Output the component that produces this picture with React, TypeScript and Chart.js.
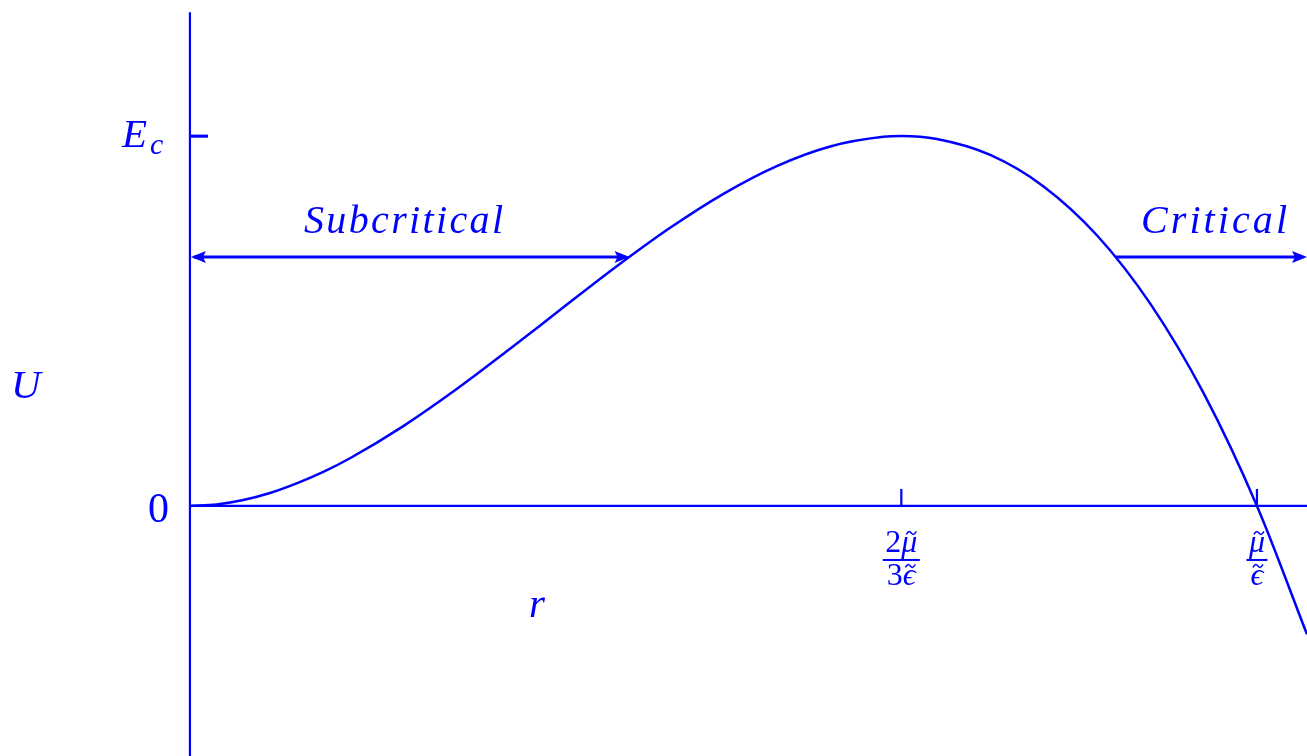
import React, { useEffect, useRef } from "react";
import { Chart, registerables } from "chart.js";

Chart.register(...registerables);

// Potential U(r) sampled along r (r in units of mu/eps, U in units of E_c)
const R_VALUES = [
  0, 0.025, 0.05, 0.075, 0.1, 0.125, 0.15, 0.2, 0.25, 0.3, 0.35, 0.4, 0.45,
  0.5, 0.55, 0.6, 0.65, 0.6667, 0.7, 0.75, 0.8, 0.85, 0.9, 0.95, 1.0, 1.0469,
];
const U_VALUES = [
  0, 0.004, 0.016, 0.035, 0.061, 0.092, 0.129, 0.216, 0.316, 0.425, 0.537,
  0.648, 0.752, 0.844, 0.919, 0.972, 0.998, 1.0, 0.992, 0.949, 0.864, 0.732,
  0.547, 0.305, 0, -0.347,
];

// Axis extents
const X_MIN = -0.178;
const X_MAX = 1.0469;
const Y_MIN = -0.676;
const Y_MAX = 1.368;
const AXIS_TOP = 1.335;

// Marked values
const E_C = 1;
const R_PEAK = 0.6667;
const R_ZERO = 1;

// Energy level of the two regime arrows and where they meet the curve
const ARROW_LEVEL = 0.673;
const SUB_END = 0.412;
const CRIT_START = 0.8675;

const REGIME_LABELS = ["Subcritical", "Critical"];
const AXIS_LABELS = ["U", "r"];

const BLUE = "#0000ff";
const SERIF = '"Liberation Serif", "DejaVu Serif", serif';

function spacedText(
  ctx: CanvasRenderingContext2D,
  text: string,
  left: number,
  right: number,
  baseline: number
) {
  const chars = Array.from(text);
  const widths = chars.map((c) => ctx.measureText(c).width);
  const total = widths.reduce((a, b) => a + b, 0);
  const gap = chars.length > 1 ? (right - left - total) / (chars.length - 1) : 0;
  let x = left;
  ctx.textAlign = "left";
  chars.forEach((c, i) => {
    ctx.fillText(c, x, baseline);
    x += widths[i] + gap;
  });
}

function tilde(ctx: CanvasRenderingContext2D, cx: number, cy: number, w: number) {
  ctx.save();
  ctx.lineWidth = 1.5;
  ctx.beginPath();
  ctx.moveTo(cx - w / 2, cy + 1.5);
  ctx.bezierCurveTo(cx - w / 4, cy - 3, cx - w / 8, cy - 1.5, cx, cy);
  ctx.bezierCurveTo(cx + w / 8, cy + 1.5, cx + w / 4, cy + 3, cx + w / 2, cy - 1.5);
  ctx.stroke();
  ctx.restore();
}

// Fraction like 2mu~/3eps~ centred at cx
function fraction(
  ctx: CanvasRenderingContext2D,
  cx: number,
  numPre: string,
  numSym: string,
  denPre: string,
  denSym: string,
  barY: number,
  barW: number
) {
  const upright = `32px ${SERIF}`;
  const italic = `italic 32px ${SERIF}`;
  const drawPart = (
    pre: string,
    sym: string,
    baseline: number,
    tildeY: number,
    tildeDx: number
  ) => {
    ctx.font = upright;
    const wp = ctx.measureText(pre).width;
    ctx.font = italic;
    const ws = ctx.measureText(sym).width;
    const left = cx - (wp + ws) / 2;
    ctx.font = upright;
    ctx.textAlign = "left";
    ctx.fillText(pre, left, baseline);
    ctx.font = italic;
    ctx.fillText(sym, left + wp, baseline);
    tilde(ctx, left + wp + ws / 2 + tildeDx, tildeY, 10);
  };
  drawPart(numPre, numSym, barY - 8, barY - 27, 2);
  ctx.fillRect(cx - barW / 2, barY - 1, barW, 2);
  drawPart(denPre, denSym, barY + 25, barY + 6, 1);
}

const decorations = {
  id: "decorations",
  afterDatasetsDraw(chart: Chart) {
    const ctx = chart.ctx;
    const xs = chart.scales.x;
    const ys = chart.scales.y;
    const area = chart.chartArea;
    const x0 = xs.getPixelForValue(0);
    const y0 = ys.getPixelForValue(0);
    const yEc = ys.getPixelForValue(E_C);
    const yArrow = ys.getPixelForValue(ARROW_LEVEL);

    ctx.save();
    ctx.strokeStyle = BLUE;
    ctx.fillStyle = BLUE;
    ctx.lineCap = "butt";

    // axes
    ctx.lineWidth = 2.2;
    ctx.beginPath();
    ctx.moveTo(x0, ys.getPixelForValue(AXIS_TOP));
    ctx.lineTo(x0, area.bottom);
    ctx.moveTo(x0, y0);
    ctx.lineTo(area.right, y0);
    // y ticks
    ctx.moveTo(x0, yEc);
    ctx.lineTo(x0 + 18, yEc);
    ctx.moveTo(x0, y0);
    ctx.lineTo(x0 + 18, y0);
    // r ticks
    [R_PEAK, R_ZERO].forEach((r) => {
      const px = xs.getPixelForValue(r);
      ctx.moveTo(px, y0);
      ctx.lineTo(px, y0 - 17);
    });
    ctx.stroke();
    ctx.lineWidth = 3;
    ctx.beginPath();
    ctx.moveTo(x0, yEc);
    ctx.lineTo(x0 + 18, yEc);
    ctx.stroke();

    // regime arrows
    const arrowHead = (tipX: number, dir: number) => {
      ctx.beginPath();
      ctx.moveTo(tipX, yArrow);
      ctx.lineTo(tipX - dir * 15, yArrow - 6);
      ctx.lineTo(tipX - dir * 12, yArrow);
      ctx.lineTo(tipX - dir * 15, yArrow + 6);
      ctx.closePath();
      ctx.fill();
    };
    const subL = x0;
    const subR = xs.getPixelForValue(SUB_END);
    const critL = xs.getPixelForValue(CRIT_START);
    const critR = area.right;
    ctx.lineWidth = 3;
    ctx.beginPath();
    ctx.moveTo(subL + 4, yArrow);
    ctx.lineTo(subR - 4, yArrow);
    ctx.moveTo(critL, yArrow);
    ctx.lineTo(critR - 4, yArrow);
    ctx.stroke();
    arrowHead(subL + 1, -1);
    arrowHead(subR, 1);
    arrowHead(critR, 1);

    // regime labels
    ctx.font = `italic 40px ${SERIF}`;
    spacedText(ctx, REGIME_LABELS[0], 304, 503, yArrow - 24);
    spacedText(ctx, REGIME_LABELS[1], 1141, 1287, yArrow - 24);

    // y tick labels
    ctx.textAlign = "left";
    ctx.font = `italic 41px ${SERIF}`;
    ctx.fillText("E", x0 - 68, yEc + 11);
    ctx.font = `italic 30px ${SERIF}`;
    ctx.fillText("c", x0 - 40, yEc + 18);
    ctx.font = `42px ${SERIF}`;
    ctx.textAlign = "right";
    ctx.fillText("0", x0 - 21, y0 + 16);

    // axis titles
    ctx.font = `italic 41px ${SERIF}`;
    ctx.textAlign = "left";
    ctx.fillText(AXIS_LABELS[0], 11, 398);
    ctx.fillText(AXIS_LABELS[1], 529, 617);

    // r tick labels
    fraction(ctx, xs.getPixelForValue(R_PEAK), "2", "\u03bc", "3", "\u03f5", y0 + 54, 37);
    fraction(ctx, xs.getPixelForValue(R_ZERO), "", "\u03bc", "", "\u03f5", y0 + 54, 21);

    ctx.restore();
  },
};

export default function App() {
  const canvasRef = useRef<HTMLCanvasElement | null>(null);

  useEffect(() => {
    const canvas = canvasRef.current;
    if (!canvas) return;
    const chart = new Chart(canvas, {
      type: "line",
      data: {
        datasets: [
          {
            data: R_VALUES.map((r, i) => ({ x: r, y: U_VALUES[i] })),
            borderColor: BLUE,
            borderWidth: 2.5,
            pointRadius: 0,
            fill: false,
            cubicInterpolationMode: "monotone",
          },
        ],
      },
      options: {
        animation: false,
        responsive: false,
        devicePixelRatio: 1,
        layout: { padding: 0 },
        plugins: { legend: { display: false }, tooltip: { enabled: false } },
        scales: {
          x: { type: "linear", min: X_MIN, max: X_MAX, display: false },
          y: { type: "linear", min: Y_MIN, max: Y_MAX, display: false },
        },
      },
      plugins: [decorations],
    });
    return () => chart.destroy();
  }, []);

  return (
    <div style={{ position: "absolute", left: 0, top: 0, width: 1307, height: 756, background: "#fff" }}>
      <canvas ref={canvasRef} width={1307} height={756} />
    </div>
  );
}
